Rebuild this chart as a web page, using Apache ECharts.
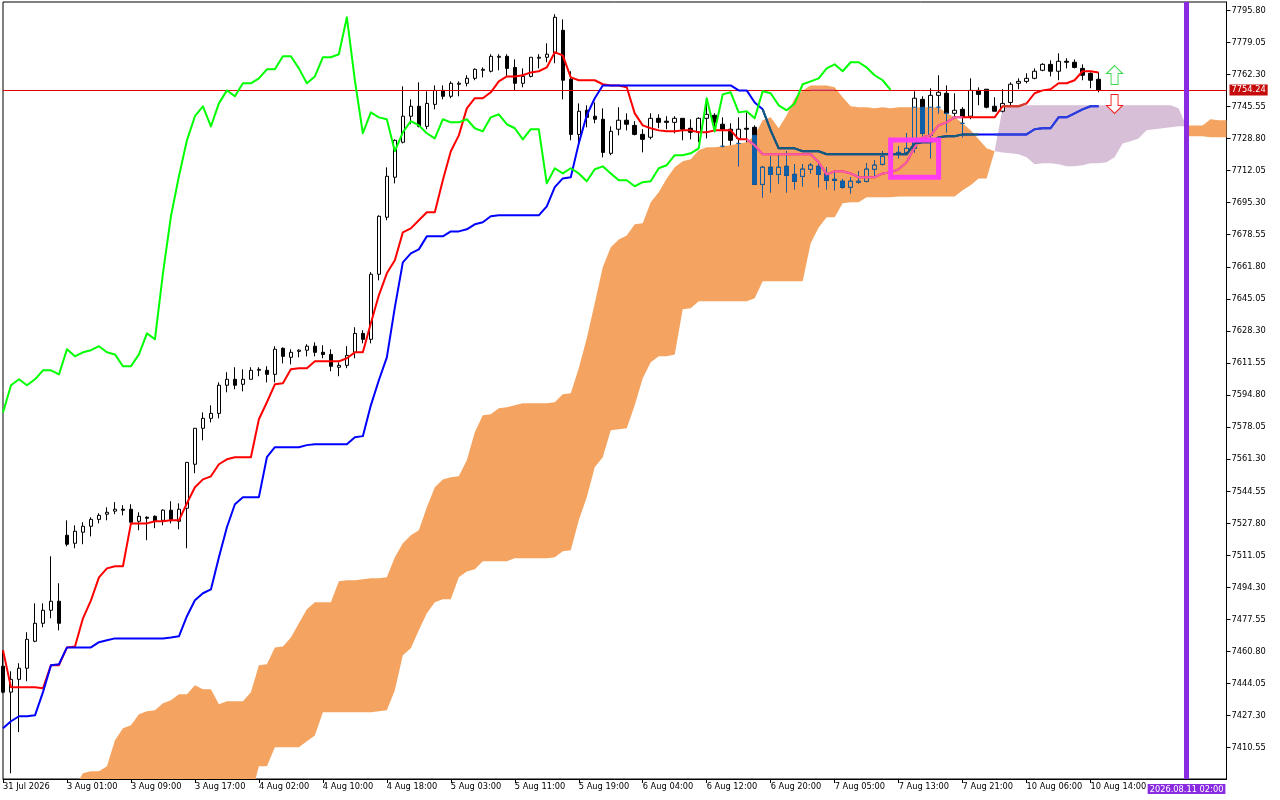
<!DOCTYPE html>
<html><head><meta charset="utf-8">
<style>html,body{margin:0;padding:0;background:#fff}#chart{width:1280px;height:800px}</style>
<script src="https://cdn.jsdelivr.net/npm/echarts@6/dist/echarts.min.js"></script>
</head><body><div id="chart"></div>
<script>
const tickLabels=['31 Jul 2026','3 Aug 01:00','3 Aug 09:00','3 Aug 17:00','4 Aug 02:00','4 Aug 10:00','4 Aug 18:00','5 Aug 03:00','5 Aug 11:00','5 Aug 19:00','6 Aug 04:00','6 Aug 12:00','6 Aug 20:00','7 Aug 05:00','7 Aug 13:00','7 Aug 21:00','10 Aug 06:00','10 Aug 14:00'];
const priceTicks=[7795.80,7779.05,7762.30,7745.55,7728.80,7712.05,7695.30,7678.55,7661.80,7645.05,7628.30,7611.55,7594.80,7578.05,7561.30,7544.55,7527.80,7511.05,7494.30,7477.55,7460.80,7444.05,7427.30,7410.55];
const lastPrice=7754.24;
const markerTime='2026.08.11 02:00';
const markerBar=148;
const boxBars=[111,117];
const boxPrices=[7728.1,7708.6];
const upArrow=[139,7762.0];
const downArrow=[139,7746.9];

const opens=[7453.1,7439.5,7446.2,7452.0,7466.1,7475.5,7482.3,7487.0,7521.5,7517.3,
7523.1,7526.2,7529.8,7532.5,7534.1,7535.1,7535.1,7528.8,7530.9,7531.4,
7529.3,7534.6,7528.8,7535.6,7558.6,7577.4,7582.6,7585.2,7599.9,7603.0,
7600.4,7603.0,7607.7,7607.7,7605.6,7619.2,7614.5,7617.6,7618.2,7620.3,
7617.1,7616.0,7609.3,7610.3,7617.1,7627.0,7623.9,7657.9,7687.7,7708.6,
7726.9,7740.5,7745.7,7735.2,7746.7,7754.0,7750.9,7757.2,7757.7,7760.3,
7764.5,7764.0,7771.3,7771.8,7766.0,7757.7,7761.3,7770.8,7771.3,7773.4,
7785.4,7759.8,7731.0,7743.6,7740.5,7738.9,7721.1,7733.7,7738.4,7735.7,
7731.0,7729.5,7739.4,7737.9,7737.3,7739.4,7734.2,7732.1,7739.4,7741.0,
7736.3,7733.7,7728.9,7734.2,7734.7,7704.9,7713.8,7710.1,7714.3,7710.1,
7709.1,7712.8,7714.3,7710.6,7707.5,7706.5,7703.4,7706.0,7706.5,7712.8,
7715.4,7719.0,7721.1,7721.6,7723.7,7749.3,7730.5,7751.4,7752.5,7742.0,
7744.1,7740.5,7754.0,7754.6,7745.7,7743.1,7747.7,7757.7,7758.7,7760.3,
7764.5,7767.6,7764.0,7769.2,7768.7,7765.5,7762.9,7759.8];
const closes=[7439.5,7446.2,7452.0,7467.1,7475.5,7482.3,7487.0,7475.5,7516.8,7523.6,
7526.2,7529.8,7531.9,7533.5,7535.1,7534.6,7528.3,7531.4,7530.4,7528.8,
7534.6,7529.8,7535.1,7559.6,7577.4,7582.6,7585.2,7599.9,7603.0,7599.9,
7603.0,7607.7,7608.2,7605.6,7618.7,7615.0,7617.1,7618.2,7620.3,7617.1,
7616.0,7609.8,7610.3,7615.5,7627.0,7623.9,7657.9,7688.2,7709.1,7727.9,
7740.5,7745.7,7735.2,7747.2,7754.0,7750.9,7757.7,7757.7,7760.3,7765.0,
7765.0,7771.8,7771.8,7765.5,7757.7,7761.3,7771.3,7771.3,7772.9,7792.2,
7759.3,7731.0,7743.1,7739.9,7738.9,7721.6,7732.6,7738.4,7736.3,7731.0,
7728.4,7739.4,7737.3,7737.3,7739.4,7733.7,7732.1,7739.4,7741.5,7737.3,
7733.7,7727.9,7733.7,7733.7,7704.9,7713.8,7710.1,7713.8,7709.6,7706.5,
7712.8,7714.9,7710.1,7707.0,7707.0,7703.4,7706.5,7706.5,7712.8,7714.9,
7719.5,7721.1,7721.6,7723.7,7749.9,7731.6,7751.4,7753.0,7742.0,7743.6,
7739.9,7754.0,7751.9,7745.2,7743.1,7747.2,7757.2,7758.7,7760.3,7764.0,
7767.6,7764.0,7769.2,7768.7,7766.0,7761.9,7759.3,7754.24];
const highs=[7461.4,7450.4,7454.6,7470.8,7485.9,7485.9,7510.5,7496.4,7529.3,7526.7,
7528.3,7530.9,7533.0,7536.1,7538.8,7537.2,7537.7,7533.5,7531.4,7531.9,
7535.1,7539.3,7538.2,7559.6,7577.4,7585.7,7589.4,7601.4,7606.7,7609.3,
7608.2,7609.3,7609.3,7609.8,7620.3,7619.7,7618.7,7618.7,7621.3,7622.3,
7620.8,7618.7,7611.9,7620.3,7630.2,7628.6,7659.0,7688.7,7713.8,7728.4,
7756.1,7749.3,7758.2,7753.5,7756.6,7756.6,7758.7,7758.7,7761.9,7765.5,
7766.0,7772.9,7772.9,7772.9,7770.2,7765.5,7771.3,7772.9,7778.6,7793.8,
7791.1,7764.0,7747.2,7746.2,7747.7,7744.6,7735.2,7745.2,7742.0,7737.9,
7733.7,7742.0,7741.5,7740.5,7740.5,7739.4,7738.9,7739.9,7749.9,7742.0,
7739.9,7736.8,7739.9,7742.5,7735.7,7714.3,7719.5,7720.1,7722.2,7715.4,
7715.4,7715.9,7716.4,7713.8,7712.2,7707.5,7708.6,7711.7,7715.9,7717.5,
7722.2,7722.7,7724.8,7731.6,7753.5,7750.9,7755.1,7761.9,7756.6,7752.5,
7745.2,7760.3,7755.6,7754.6,7750.4,7754.6,7758.2,7760.3,7762.9,7765.5,
7768.2,7769.7,7773.4,7770.8,7770.2,7767.6,7763.4,7763.4];
const lows=[7438.9,7397.1,7418.6,7445.2,7465.6,7473.4,7478.1,7471.8,7515.7,7514.7,
7516.8,7520.9,7527.7,7529.3,7532.5,7531.9,7527.2,7524.1,7518.9,7525.2,
7526.7,7527.7,7524.6,7514.7,7553.9,7571.1,7580.5,7582.6,7596.2,7597.8,
7596.7,7603.0,7604.6,7601.4,7601.4,7611.3,7610.8,7614.5,7615.0,7615.0,
7614.0,7607.2,7604.6,7608.8,7614.0,7621.8,7621.8,7654.7,7686.1,7705.4,
7726.3,7736.3,7734.7,7733.7,7744.1,7749.3,7749.9,7750.9,7756.1,7759.3,
7760.8,7763.4,7764.5,7761.3,7754.0,7755.6,7760.8,7765.5,7768.7,7768.2,
7749.3,7727.9,7725.8,7734.7,7736.8,7719.0,7720.1,7730.5,7733.1,7730.5,
7721.6,7728.4,7734.2,7733.7,7731.6,7727.9,7728.4,7726.9,7728.9,7732.1,
7724.3,7725.3,7714.3,7726.9,7704.9,7698.1,7700.7,7705.4,7700.7,7702.3,
7703.9,7710.6,7703.4,7702.3,7701.8,7702.8,7700.2,7705.4,7706.0,7708.6,
7714.9,7714.9,7718.5,7721.1,7721.6,7730.0,7718.5,7742.0,7732.1,7739.4,
7729.5,7738.9,7746.2,7744.6,7743.1,7742.5,7745.7,7754.6,7757.7,7759.8,
7764.0,7761.3,7759.3,7765.5,7765.5,7759.3,7755.1,7753.0];
const tenkan=[7461.4,7442.0,7442.0,7442.0,7442.0,7441.5,7453.6,7453.6,7462.9,7463.4,
7478.1,7487.5,7499.5,7504.2,7505.3,7505.3,7527.7,7527.7,7527.7,7528.8,
7528.8,7529.3,7529.3,7538.2,7546.6,7550.7,7552.3,7558.6,7561.2,7562.3,
7562.3,7562.3,7582.1,7591.0,7600.4,7600.9,7608.2,7608.8,7608.8,7612.4,
7612.4,7612.4,7612.4,7614.0,7617.1,7617.1,7632.3,7646.9,7658.4,7665.2,
7679.8,7681.9,7686.1,7690.3,7690.3,7707.0,7722.2,7730.5,7744.6,7749.9,
7749.9,7753.0,7758.7,7761.3,7761.3,7761.9,7763.4,7764.0,7766.0,7773.9,
7772.3,7760.8,7759.3,7759.3,7759.3,7757.2,7756.6,7756.6,7755.6,7742.0,
7735.7,7734.2,7733.1,7732.6,7732.6,7733.1,7733.1,7732.1,7732.1,7733.1,
7733.1,7733.1,7728.4,7728.4,7725.3,7720.6,7720.6,7720.6,7720.6,7720.6,
7720.6,7720.6,7716.4,7710.1,7711.7,7711.7,7710.6,7708.6,7708.6,7708.6,
7710.6,7711.2,7712.8,7716.4,7724.3,7729.5,7730.5,7735.7,7737.3,7739.9,
7739.9,7739.9,7739.9,7739.9,7739.9,7745.7,7745.7,7745.7,7747.2,7752.5,
7754.0,7754.6,7757.7,7757.7,7759.3,7764.0,7764.0,7763.4];
const kijun=[7420.6,7424.3,7426.9,7426.9,7427.4,7439.5,7453.6,7454.1,7462.9,7462.9,
7462.9,7462.9,7465.6,7466.6,7467.6,7467.6,7467.6,7467.6,7467.6,7467.6,
7467.6,7468.1,7468.7,7479.2,7487.5,7491.2,7493.2,7510.0,7525.7,7537.7,
7541.4,7541.4,7541.4,7562.3,7567.5,7567.5,7567.5,7567.5,7568.6,7569.1,
7569.1,7569.1,7569.1,7569.1,7572.7,7573.3,7589.4,7602.5,7614.5,7640.6,
7664.1,7668.8,7670.9,7677.7,7677.7,7677.7,7680.3,7680.3,7681.4,7684.0,
7685.1,7688.2,7688.7,7688.7,7688.7,7688.7,7688.7,7688.7,7693.4,7703.4,
7708.0,7708.6,7726.3,7741.0,7749.9,7756.6,7756.6,7756.6,7756.6,7756.6,
7756.6,7756.6,7756.6,7756.6,7756.6,7756.6,7756.6,7756.6,7756.6,7756.6,
7756.6,7756.6,7754.0,7754.0,7747.7,7744.1,7733.1,7723.7,7723.7,7723.7,
7722.2,7722.2,7722.2,7720.6,7720.6,7720.6,7720.6,7720.6,7720.6,7720.6,
7720.6,7720.6,7720.6,7720.6,7726.3,7726.9,7726.9,7729.5,7730.0,7730.0,
7731.0,7731.0,7731.0,7731.0,7731.0,7731.0,7731.0,7731.0,7731.0,7733.7,
7734.2,7734.2,7739.9,7739.9,7742.0,7744.1,7745.7,7745.7];
const chikou=[7585.7,7599.9,7603.0,7599.9,7603.0,7607.7,7607.7,7605.6,7618.7,7615.0,
7617.1,7618.2,7620.3,7617.1,7616.0,7609.8,7609.8,7616.0,7627.0,7623.9,
7658.4,7688.2,7709.1,7727.9,7740.5,7745.7,7735.2,7747.2,7754.0,7750.9,
7757.7,7757.7,7760.3,7765.0,7765.0,7771.8,7771.8,7765.5,7757.7,7761.3,
7771.3,7771.3,7772.9,7792.2,7759.3,7731.6,7742.5,7739.9,7738.9,7722.2,
7732.1,7737.9,7735.7,7731.6,7728.9,7738.9,7737.3,7737.3,7738.9,7734.2,
7732.6,7739.9,7741.5,7736.3,7734.2,7728.4,7733.7,7733.7,7705.4,7713.3,
7710.6,7713.3,7710.6,7706.5,7712.8,7714.3,7710.6,7707.0,7707.0,7703.9,
7706.0,7706.5,7713.3,7714.9,7720.1,7720.1,7721.1,7723.7,7749.9,7732.6,
7751.9,7753.0,7742.5,7743.1,7739.4,7753.5,7752.5,7746.2,7743.6,7747.2,
7757.2,7758.7,7760.3,7765.5,7767.6,7764.0,7768.7,7768.7,7766.0,7761.9,
7759.3,7754.24];
const spanA=[null,null,null,null,null,null,null,null,null,7390.0,
7397.1,7398.2,7398.2,7400.8,7414.4,7420.6,7422.2,7428.0,7429.5,7430.0,
7433.7,7435.3,7438.4,7438.4,7443.1,7441.0,7441.0,7433.2,7434.8,7434.8,
7434.8,7439.5,7453.6,7454.1,7462.9,7463.4,7468.1,7475.5,7482.8,7486.5,
7486.5,7486.5,7497.5,7498.0,7498.0,7498.5,7499.0,7499.0,7499.5,7510.0,
7517.3,7521.5,7524.1,7536.1,7546.6,7550.7,7551.8,7552.3,7560.7,7575.3,
7584.2,7584.7,7587.9,7588.4,7589.4,7590.5,7590.5,7590.5,7590.5,7591.0,
7595.2,7595.7,7608.8,7624.4,7642.7,7661.5,7672.0,7676.1,7678.2,7684.0,
7684.5,7695.5,7700.7,7708.0,7713.8,7716.9,7718.0,7722.7,7724.3,7724.3,
7724.8,7725.3,7726.3,7726.9,7730.5,7738.4,7739.9,7734.2,7741.0,7749.9,
7754.0,7756.6,7756.6,7756.6,7755.6,7750.4,7745.7,7745.2,7745.2,7744.6,
7745.2,7744.6,7745.2,7745.2,7745.2,7745.2,7745.2,7745.2,7742.0,7739.9,
7736.8,7733.1,7728.4,7723.7,7722.2,7721.6,7721.1,7720.6,7719.0,7715.4,
7715.9,7715.9,7715.4,7714.3,7714.3,7714.9,7715.9,7715.9,7716.4,7719.0,
7726.3,7727.4,7728.9,7733.1,7733.7,7734.2,7734.7,7735.2,7735.2,7735.7,
7735.7,7738.9,7738.4,7738.4];
const spanB=[null,null,null,null,null,null,null,null,null,7385.0,
7385.0,7385.0,7385.0,7385.0,7385.0,7385.0,7385.0,7385.0,7385.0,7385.0,
7385.0,7385.0,7385.0,7385.0,7385.0,7385.0,7385.0,7385.0,7385.0,7385.0,
7385.0,7385.0,7400.8,7400.8,7410.7,7410.7,7410.7,7410.7,7413.8,7416.9,
7429.0,7429.0,7429.0,7429.0,7429.0,7429.0,7429.0,7429.5,7430.0,7440.5,
7458.8,7462.4,7471.8,7480.7,7486.5,7488.0,7488.0,7499.5,7502.6,7503.7,
7507.9,7507.9,7507.9,7507.9,7509.5,7509.5,7509.5,7509.5,7509.5,7510.0,
7513.1,7513.6,7529.3,7541.4,7557.0,7562.3,7576.4,7576.9,7577.4,7589.4,
7603.5,7611.9,7615.0,7615.0,7616.0,7639.6,7640.1,7643.8,7643.8,7643.8,
7643.8,7643.8,7643.8,7643.8,7645.3,7654.2,7654.2,7654.2,7654.2,7654.2,
7654.2,7674.1,7682.4,7687.7,7687.7,7695.0,7695.5,7695.5,7698.1,7698.1,
7698.1,7698.1,7698.6,7698.6,7698.6,7698.6,7698.6,7698.6,7698.6,7698.6,
7701.8,7704.4,7708.0,7708.0,7722.2,7744.6,7745.7,7746.2,7746.2,7746.2,
7746.2,7746.2,7746.2,7746.2,7746.2,7746.2,7746.2,7746.2,7746.2,7746.2,
7746.2,7746.2,7746.2,7746.2,7746.2,7746.2,7746.2,7744.6,7735.2,7730.0,
7730.0,7729.5,7729.5,7729.5];

const ORANGE='#F4A460',LILAC='#D8BFD8',CANDLE_IN='#0F5FA8';
const FONT='"DejaVu Sans Condensed","Liberation Sans",Arial,sans-serif';
const FONT_SIZE=9.2;
const barIndex=spanA.map((_,i)=>String(i));

function zone(i,v){
  const a=spanA[i],b=spanB[i];
  if(a==null||b==null||v==null)return null;
  if(v>Math.max(a,b)||v<Math.min(a,b))return null;
  return a>=b?'o':'l';
}
function inZone(values,z){
  return barIndex.map((_,i)=>{
    const v=values[i];
    if(v==null)return null;
    const near=[i-1,i,i+1].some(k=>k>=0&&values[k]!=null&&zone(k,values[k])===z);
    return near?v:null;
  });
}
const orangeLow=barIndex.map((_,i)=>spanA[i]!=null&&spanA[i]>=spanB[i]?spanB[i]:null);
const orangeGap=barIndex.map((_,i)=>spanA[i]!=null&&spanA[i]>=spanB[i]?spanA[i]-spanB[i]:null);
const lilacLow=barIndex.map((_,i)=>spanA[i]!=null&&spanA[i]<=spanB[i]?spanA[i]:null);
const lilacGap=barIndex.map((_,i)=>spanA[i]!=null&&spanA[i]<=spanB[i]?spanB[i]-spanA[i]:null);
// the second twist sits under the marker line: the orange run starts there at full height
orangeLow[markerBar]=spanB[markerBar+1];
orangeGap[markerBar]=spanA[markerBar+1]-spanB[markerBar+1];

const candles=opens.map((o,i)=>[o,closes[i],lows[i],highs[i]]);
const candlesInCloud=opens.map((o,i)=>{
  const a=spanA[i],b=spanB[i];
  if(a==null||a<b)return ['-','-','-','-'];
  if(lows[i]>=a||highs[i]<=b)return ['-','-','-','-'];
  const c=v=>Math.min(a,Math.max(b,v));
  return [c(o),c(closes[i]),c(lows[i]),c(highs[i])];
});
const priceInCloud=barIndex.map((_,i)=>zone(i,lastPrice)==='o'?lastPrice:null);
const boxOutline=[[boxBars[0],boxPrices[0]],[boxBars[1],boxPrices[0]],[boxBars[1],boxPrices[1]],[boxBars[0],boxPrices[1]],[boxBars[0],boxPrices[0]]];

function band(name,data,stack,fill,z){
  return {name,type:'line',data,stack,symbol:'none',silent:true,z,
    lineStyle:{width:0,opacity:0},itemStyle:{opacity:0},
    areaStyle:fill?{color:fill,opacity:1}:{opacity:0}};
}
function lineS(name,data,color,z,width){
  return {name,type:'line',data,symbol:'none',silent:true,z,connectNulls:false,
    lineStyle:{color,width:width||2,cap:'butt',join:'round'}};
}
const option={
  animation:false,
  backgroundColor:'#fff',
  grid:{left:2.5,top:2,width:1224,height:777,show:true,backgroundColor:'#fff',borderColor:'#000',borderWidth:1,containLabel:false},
  xAxis:{type:'category',data:barIndex,boundaryGap:false,
    axisLine:{show:true,onZero:false,lineStyle:{color:'#000',width:1}},
    axisTick:{show:true,length:4,lineStyle:{color:'#000',width:1},alignWithLabel:true,interval:(i)=>i%8===0&&i/8<tickLabels.length},
    axisLabel:{show:true,interval:(i)=>i%8===0&&i/8<tickLabels.length,align:'left',margin:3,
      fontFamily:FONT,fontSize:FONT_SIZE,color:'#000',hideOverlap:false,
      formatter:(v)=>tickLabels[+v/8]},
    splitLine:{show:false}},
  yAxis:{type:'value',position:'right',min:7394.11,max:7800.19,offset:0,
    axisLine:{show:true,lineStyle:{color:'#000',width:1}},
    axisTick:{show:true,length:4,lineStyle:{color:'#000',width:1},customValues:priceTicks},
    axisLabel:{show:true,margin:5,customValues:priceTicks,
      fontFamily:FONT,fontSize:FONT_SIZE,color:'#000',
      formatter:(v)=>v.toFixed(2)},
    splitLine:{show:false}},
  series:[
    band('orangeBase',orangeLow,'orange',null,1),
    band('orangeFill',orangeGap,'orange',ORANGE,1),
    band('lilacBase',lilacLow,'lilac',null,1),
    band('lilacFill',lilacGap,'lilac',LILAC,1),
    {name:'candles',type:'candlestick',data:candles,barWidth:4,silent:true,z:3,clip:true,
      itemStyle:{color:'#fff',color0:'#000',borderColor:'#000',borderColor0:'#000',borderWidth:1}},
    {name:'candlesCloud',type:'candlestick',data:candlesInCloud,barWidth:4,silent:true,z:4,clip:true,
      itemStyle:{color:ORANGE,color0:CANDLE_IN,borderColor:CANDLE_IN,borderColor0:CANDLE_IN,borderWidth:1}},
    lineS('tenkan',tenkan,'#ff0000',5),
    lineS('tenkanO',inZone(tenkan,'o'),'#F45FB4',5),
    lineS('tenkanL',inZone(tenkan,'l'),'#D04030',5),
    lineS('kijun',kijun,'#0000ff',6),
    lineS('kijunO',inZone(kijun,'o'),'#0F6070',6),
    lineS('kijunL',inZone(kijun,'l'),'#2A40D8',6),
    lineS('chikou',chikou,'#00ff00',7),
    {name:'up',type:'scatter',data:[upArrow],symbol:'path://M8 0L16 8L11.5 8L11.5 19L4.5 19L4.5 8L0 8Z',symbolSize:[16,19],silent:true,z:8,
      itemStyle:{color:'#fff',borderColor:'#35d84a',borderWidth:1,opacity:1}},
    {name:'down',type:'scatter',data:[downArrow],symbol:'path://M4.5 0L11.5 0L11.5 11L16 11L8 19L0 11L4.5 11Z',symbolSize:[16,19],silent:true,z:8,
      itemStyle:{color:'#fff',borderColor:'#f02020',borderWidth:1,opacity:1}},
    {name:'box',type:'line',data:boxOutline,symbol:'none',silent:true,z:9,
      lineStyle:{color:'#FF3DF0',width:5,cap:'square',join:'miter'}},
    {name:'marks',type:'line',data:barIndex.map(()=>null),symbol:'none',silent:true,z:9,
      markLine:{silent:true,animation:false,symbol:'none',precision:2,
        data:[
          {yAxis:lastPrice,lineStyle:{color:'#E00000',width:1,type:'solid'},
            label:{show:true,position:'end',distance:3,formatter:lastPrice.toFixed(2),color:'#fff',backgroundColor:'#C40A0A',
              padding:[1,2,1,2],fontFamily:FONT,fontSize:FONT_SIZE}},
          {xAxis:markerBar,lineStyle:{color:'#8A2BE2',width:5,type:'solid'},
            label:{show:true,position:'start',distance:5,formatter:markerTime,color:'#fff',backgroundColor:'#8A2BE2',
              padding:[1,2,0,2],fontFamily:FONT,fontSize:FONT_SIZE}}
        ]}},
    lineS('priceCloud',priceInCloud,'#c46a9a',10,1)
  ]
};
const chart=echarts.init(document.getElementById('chart'),null,{renderer:'canvas',width:1280,height:800});
chart.setOption(option);
</script></body></html>
